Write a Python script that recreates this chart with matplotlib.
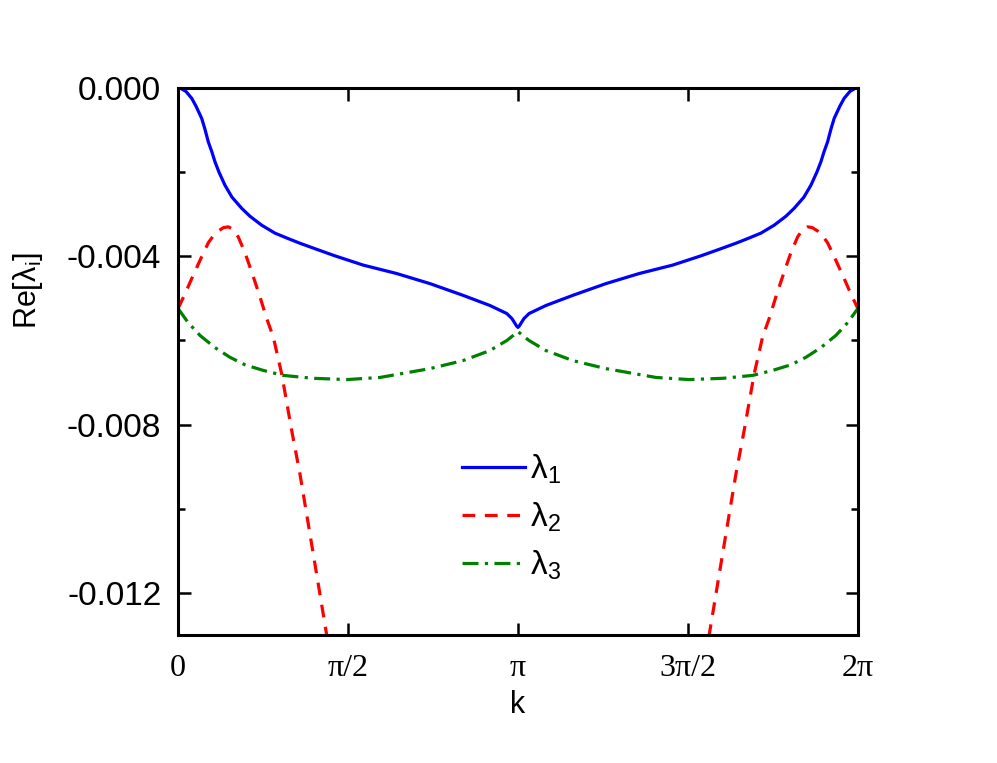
import numpy as np
import matplotlib
matplotlib.use("Agg")
import matplotlib.pyplot as plt
from matplotlib.ticker import MultipleLocator

plt.rcParams['font.family'] = ['Liberation Sans', 'DejaVu Sans']
plt.rcParams['mathtext.fontset'] = 'custom'
plt.rcParams['mathtext.rm'] = 'Liberation Sans'
plt.rcParams['mathtext.it'] = 'Liberation Sans:italic'

# values
k1 = [0.0, 0.028, 0.074, 0.127, 0.166, 0.219, 0.249, 0.280, 0.314, 0.342, 0.379,
      0.434, 0.499, 0.589, 0.665, 0.773, 0.896, 1.019, 1.127, 1.266, 1.451, 1.712,
      2.021, 2.329, 2.636, 2.883, 3.038, 3.086, 3.130, 3.1416,
      3.153, 3.197, 3.245, 3.400, 3.647, 3.954, 4.262, 4.571, 4.832, 5.017, 5.156,
      5.264, 5.387, 5.510, 5.618, 5.694, 5.784, 5.849, 5.904, 5.941, 5.969, 6.003,
      6.034, 6.064, 6.117, 6.156, 6.209, 6.255, 6.2832]
re1 = [0.0, -0.000012, -0.000083, -0.000245, -0.000429, -0.000721, -0.000976,
       -0.001279, -0.001524, -0.001755, -0.00200, -0.00231, -0.002595, -0.00286,
       -0.003048, -0.00326, -0.00345, -0.00358, -0.00369, -0.00382, -0.00399,
       -0.00421, -0.00441, -0.00465, -0.00493, -0.00517, -0.00536, -0.00548,
       -0.00566, -0.00569,
       -0.00566, -0.00548, -0.00536, -0.00517, -0.00493, -0.00465, -0.00441,
       -0.00421, -0.00399, -0.00382, -0.00369, -0.00358, -0.00345, -0.00326,
       -0.003048, -0.00286, -0.002595, -0.00231, -0.00200, -0.001755, -0.001524,
       -0.001279, -0.000976, -0.000721, -0.000429, -0.000245, -0.000083, -0.000012, 0.0]

k2 = [0.0, 0.064, 0.127, 0.203, 0.280, 0.330, 0.372, 0.420, 0.465, 0.510, 0.557,
      0.620, 0.681, 0.750, 0.820, 0.881, 0.958, 1.051, 1.127, 1.204, 1.281, 1.373, 1.404,
      4.879, 4.910, 5.002, 5.079, 5.156, 5.232, 5.325, 5.402, 5.463, 5.533, 5.602,
      5.663, 5.726, 5.773, 5.818, 5.863, 5.911, 5.953, 6.003, 6.080, 6.156, 6.219, 6.2832]
re2 = [-0.005245, -0.00490, -0.00453, -0.00410, -0.00368, -0.00350, -0.00340,
       -0.00332, -0.00330, -0.00336, -0.00354, -0.00392, -0.00437, -0.00490,
       -0.00548, -0.00592, -0.00679, -0.00814, -0.00917, -0.01036, -0.01155,
       -0.01298, -0.0135,
       -0.0135, -0.01298, -0.01155, -0.01036, -0.00917, -0.00814, -0.00679,
       -0.00592, -0.00548, -0.00490, -0.00437, -0.00392, -0.00354, -0.00336,
       -0.00330, -0.00332, -0.00340, -0.00350, -0.00368, -0.00410, -0.00453,
       -0.00490, -0.005245]

k3 = [0.0, 0.092, 0.203, 0.342, 0.480, 0.620, 0.785, 0.970, 1.247, 1.561, 1.866,
      2.328, 2.633, 2.883, 3.040, 3.1416,
      3.243, 3.400, 3.650, 3.955, 4.417, 4.722, 5.036, 5.313, 5.498, 5.663, 5.803,
      5.941, 6.080, 6.191, 6.2832]
re3 = [-0.005238, -0.00557, -0.00588, -0.00617, -0.00640, -0.00658, -0.00671,
       -0.00683, -0.00690, -0.00693, -0.00688, -0.00667, -0.00648, -0.00624,
       -0.00600, -0.00579,
       -0.00600, -0.00624, -0.00648, -0.00667, -0.00688, -0.00693, -0.00690,
       -0.00683, -0.00671, -0.00658, -0.00640, -0.00617, -0.00588, -0.00557, -0.005238]

xticks = [0, np.pi / 2, np.pi, 3 * np.pi / 2, 2 * np.pi]
xticklabels = ['0', 'π/2', 'π', '3π/2', '2π']
yticks = [0.0, -0.004, -0.008, -0.012]
yticklabels = ['0.000', '-0.004', '-0.008', '-0.012']

fig = plt.figure(figsize=(9.97, 7.63), dpi=100)
ax = fig.add_axes([0.1785, 0.1678, 0.682, 0.7169])

ax.plot(k1, re1, color='#0000ff', lw=2.3, label='λ$_1$')
ax.plot(k2, re2, color='#ff0000', lw=2.3, ls=(0, (4, 3)), label='λ$_2$')
ax.plot(k3, re3, color='#008000', lw=2.3, ls=(0, (5, 2, 1, 2)), label='λ$_3$')

ax.set_xlim(0, 2 * np.pi)
ax.set_ylim(-0.013, 0.0)

ax.set_xticks(xticks)
ax.set_xticklabels(xticklabels, fontfamily='Liberation Serif', fontsize=23)
ax.set_yticks(yticks)
ax.set_yticklabels(yticklabels, fontsize=24)
ax.yaxis.set_minor_locator(MultipleLocator(0.002))

ax.tick_params(axis='both', which='major', direction='in', length=9, width=1.8,
               top=True, right=True)
ax.tick_params(axis='y', which='minor', direction='in', length=5, width=1.8, right=True)
ax.tick_params(axis='x', which='major', pad=14)
ax.tick_params(axis='y', which='major', pad=12)

for s in ax.spines.values():
    s.set_linewidth(2.2)

ax.set_xlabel('k', fontsize=22)
ax.xaxis.set_label_coords(0.5, -0.1)
ax.set_ylabel(r'Re[λ$_\mathrm{i}$]', fontsize=22)
ax.yaxis.set_label_coords(-0.196, 0.63)

ax.legend(loc='center', bbox_to_anchor=(0.49, 0.215), frameon=False, fontsize=24,
          handlelength=1.9, handletextpad=0.15, labelspacing=0.45)

fig.savefig('out.png', dpi=100)
